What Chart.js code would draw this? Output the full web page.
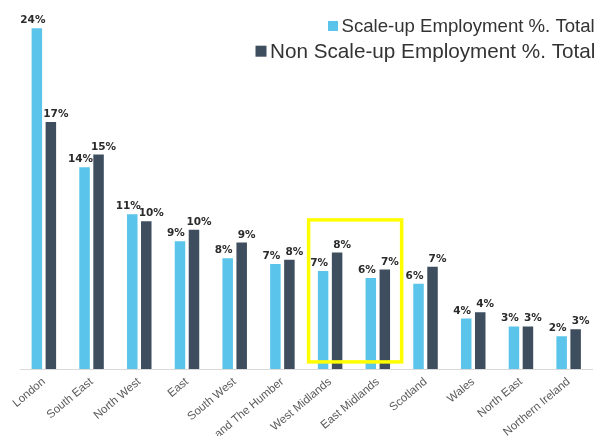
<!DOCTYPE html>
<html>
<head>
<meta charset="utf-8">
<script src="https://cdn.jsdelivr.net/npm/chart.js@4.4.0/dist/chart.umd.min.js"></script>
<style>
  html, body { margin: 0; padding: 0; background: #fff; overflow: hidden; }
  #box { position: relative; width: 595px; height: 436px; }
</style>
</head>
<body>
<div id="box"><canvas id="barchart"></canvas></div>
<script>
// regions on the x axis
const regions = ['London', 'South East', 'North West', 'East', 'South West', 'Yorkshire and The Humber',
    'West Midlands', 'East Midlands', 'Scotland', 'Wales', 'North East', 'Northern Ireland'];
// % of total employment
const scaleUpShare = [24.0, 14.2, 10.9, 9.0, 7.8, 7.4, 6.9, 6.4, 6.0, 3.55, 3.0, 2.3];
const nonScaleUpShare = [17.4, 15.1, 10.4, 9.8, 8.9, 7.7, 8.2, 7.0, 7.2, 4.0, 3.0, 2.8];
const seriesNames = ['Scale-up Employment %. Total', 'Non Scale-up Employment %. Total'];
const seriesColors = ['#5BC4EA', '#3E4E5E'];
// the yellow box
const highlightRegions = ['West Midlands', 'East Midlands'];
const highlightRange = [0.5, 10.5];

// value labels above each bar
const valueLabels = {
    id: 'valueLabels',
    afterDatasetsDraw(chart) {
        const ctx = chart.ctx;
        ctx.save();
        ctx.font = 'bold 10.5px "DejaVu Sans"';
        ctx.fillStyle = '#2b2b2b';
        ctx.textAlign = 'center';
        ctx.textBaseline = 'alphabetic';
        chart.data.datasets.forEach(function (ds, i) {
            const shift = i === 0 ? -4 : 5;
            chart.getDatasetMeta(i).data.forEach(function (bar, j) {
                ctx.fillText(Math.round(ds.data[j]) + '%', bar.x + shift, bar.y - 5);
            });
        });
        ctx.restore();
    }
};

// yellow rectangle round the highlighted regions
const highlightBox = {
    id: 'highlightBox',
    afterDatasetsDraw(chart) {
        const x = chart.scales.x, y = chart.scales.y;
        const first = regions.indexOf(highlightRegions[0]);
        const last = regions.indexOf(highlightRegions[highlightRegions.length - 1]);
        const cw = x.getPixelForValue(1) - x.getPixelForValue(0);
        const left = x.getPixelForValue(first) - 0.45 * cw;
        const right = x.getPixelForValue(last) + 0.5 * cw;
        const top = y.getPixelForValue(highlightRange[1]);
        const bottom = y.getPixelForValue(highlightRange[0]);
        const ctx = chart.ctx;
        ctx.save();
        ctx.strokeStyle = '#FFFF00';
        ctx.lineWidth = 3.5;
        ctx.strokeRect(left, top, right - left, bottom - top);
        ctx.restore();
    }
};

// legend rows in the top right corner
const legendRows = {
    id: 'legendRows',
    afterDraw(chart, args, opts) {
        const ctx = chart.ctx;
        ctx.save();
        ctx.textBaseline = 'alphabetic';
        ctx.textAlign = 'left';
        chart.data.datasets.forEach(function (ds, i) {
            const r = opts.rows[i];
            ctx.fillStyle = ds.backgroundColor;
            ctx.fillRect(r.x, r.baseline - r.box - 1, r.box, r.box);
            ctx.font = r.size + 'px "Liberation Sans", Arial, sans-serif';
            ctx.fillStyle = '#333333';
            ctx.fillText(ds.label, r.x + r.box + 3.5, r.baseline);
        });
        ctx.restore();
    }
};

const ctx = document.getElementById('barchart').getContext('2d');
const barchart = new Chart(ctx, {
    type: 'bar',
    data: {
        labels: regions,
        datasets: [{
            label: seriesNames[0],
            data: scaleUpShare,
            backgroundColor: seriesColors[0],
            categoryPercentage: 0.587,
            barPercentage: 0.75
        }, {
            label: seriesNames[1],
            data: nonScaleUpShare,
            backgroundColor: seriesColors[1],
            categoryPercentage: 0.587,
            barPercentage: 0.75
        }]
    },
    options: {
        responsive: true,
        maintainAspectRatio: false,
        animation: false,
        layout: {
            padding: { left: 20, right: 2.5, top: 14, bottom: 0 }
        },
        plugins: {
            legend: { display: false },
            tooltip: { enabled: false },
            legendRows: {
                rows: [
                    { x: 328, baseline: 32, box: 10, size: 18.6 },
                    { x: 255.5, baseline: 57.7, box: 11, size: 20.7 }
                ]
            }
        },
        scales: {
            x: {
                grid: { display: false, drawTicks: false },
                border: { display: true, color: '#D9D9D9', width: 1 },
                ticks: {
                    autoSkip: false,
                    minRotation: 40,
                    maxRotation: 40,
                    padding: 6,
                    color: '#595959',
                    font: { family: '"Liberation Sans", Arial, sans-serif', size: 11.5 }
                },
                afterFit: function (axis) {
                    axis.height = 67;
                }
            },
            y: {
                display: false,
                min: 0,
                max: 25
            }
        }
    },
    plugins: [valueLabels, highlightBox, legendRows]
});
</script>
</body>
</html>
